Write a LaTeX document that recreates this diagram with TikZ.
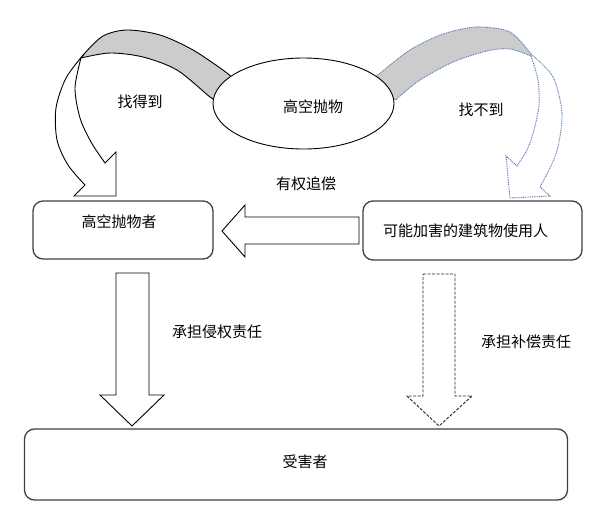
\documentclass[tikz,border=0pt]{standalone}
\usepackage{fontspec}
\newfontfamily\cjk{Noto Sans CJK SC}
\usetikzlibrary{shapes.geometric}
\definecolor{boxline}{RGB}{64,64,64}
\definecolor{bandgray}{RGB}{204,204,204}
\definecolor{dotblue}{RGB}{84,126,178}
\tikzset{
  txt/.style={font=\cjk\fontsize{15}{18}\selectfont, inner sep=0pt},
  roundbox/.style={draw=boxline, line width=1.3pt, rounded corners=10pt, fill=white},
  solidarrow/.style={draw=black, line width=0.9pt, fill=white, line join=miter},
  dashedarrow/.style={draw=black!85, line width=0.9pt, fill=white, dash pattern=on 3pt off 1.5pt},
  solidband/.style={draw=black, line width=0.9pt, fill=bandgray},
  solidribbon/.style={draw=black, line width=0.9pt, fill=white},
  dotband/.style={draw=dotblue, line width=1pt, fill=bandgray, dash pattern=on 0.9pt off 0.9pt},
  dotribbon/.style={draw=dotblue, line width=1pt, fill=white, dash pattern=on 0.9pt off 0.9pt},
}
\begin{document}
\begin{tikzpicture}[x=1pt,y=-1pt]
\useasboundingbox (0,0) rectangle (614,528);

% left curved arrow (found)
\path[solidband] plot[smooth] coordinates {(233,80) (227,73) (193,50) (160,35) (127,30) (103,36) (84,54)}
  -- plot[smooth] coordinates {(81,58) (110,53) (143,57) (177,70) (210,97) (216,100)} -- cycle;
\path[solidribbon] plot[smooth] coordinates {(84,54) (66,78) (56,108) (57,140) (68,165) (85,185)}
  -- (74,196) -- (116,196) -- (116,152) -- (105,163)
  -- plot[smooth] coordinates {(105,163) (91,142) (80,118) (75,88) (81,58)} -- cycle;

% right curved arrow (not found)
\path[dotband] plot[smooth] coordinates {(372,82) (378,75) (410,50) (443,34) (477,27) (510,32) (531,54)}
  -- plot[smooth] coordinates {(531,56) (510,49) (487,51) (453,62) (420,80) (400,96) (396,100)} -- cycle;
\path[dotribbon] plot[smooth] coordinates {(531,54) (553,77) (562,113) (558,147) (550,168) (540,187)}
  -- (550,196) -- (510,198) -- (506,156) -- (517,166)
  -- plot[smooth] coordinates {(517,166) (527,150) (534,130) (539,105) (538,80) (531,56)} -- cycle;

% ellipse
\node[ellipse, draw=black, line width=0.9pt, fill=white, minimum width=181pt, minimum height=91pt, inner sep=0pt] (obj) at (303.5,103.5) {};
\node[txt] (objt) at (313,107) {高空抛物};

% boxes
\node[roundbox, minimum width=180pt, minimum height=58pt, label={[txt, xshift=-4pt, yshift=8pt]center:高空抛物者}] (thrower) at (123,230) {};
\node[roundbox, minimum width=219pt, minimum height=59pt, label={[txt, xshift=-7pt]center:可能加害的建筑物使用人}] (user) at (472.5,230.5) {};
\node[roundbox, minimum width=543pt, minimum height=71pt, label={[txt, xshift=9pt, yshift=3pt]center:受害者}] (victim) at (296,464.5) {};

% labels
\node[txt] (found) at (140,102) {找得到};
\node[txt] (notfound) at (481,110) {找不到};
\node[txt] (recourse) at (306,184) {有权追偿};
\node[txt] (tort) at (217,332) {承担侵权责任};
\node[txt] (comp) at (526,342) {承担补偿责任};

% recourse arrow
\path[solidarrow] (359,217) -- (245,217) -- (245,205) -- (222,231) -- (245,257) -- (245,244) -- (359,244) -- cycle;

% down arrows
\path[solidarrow] (116,273) -- (149,273) -- (149,395) -- (164,395) -- (132,426) -- (100,395) -- (116,395) -- cycle;
\path[dashedarrow] (423,274) -- (455,274) -- (455,396) -- (472,396) -- (439,426) -- (407,396) -- (423,396) -- cycle;
\end{tikzpicture}
\end{document}
